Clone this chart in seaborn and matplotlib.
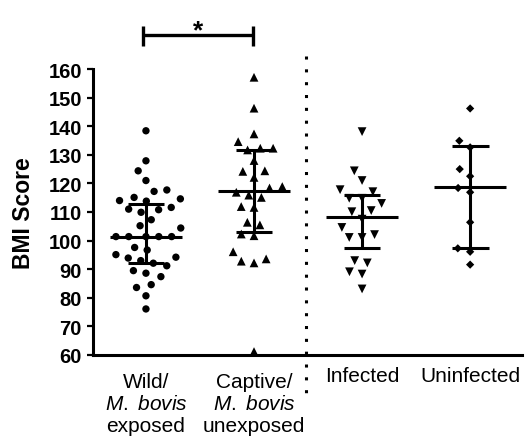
import numpy as np
import pandas as pd
import matplotlib
matplotlib.use("Agg")
import matplotlib.pyplot as plt
import matplotlib.transforms as mtransforms
import seaborn as sns

# ---------------- data ----------------
groups = ["Wild", "Captive", "Infected", "Uninfected"]
tick_labels = ["Wild/\n$\\mathit{M.\\ bovis}$\nexposed",
               "Captive/\n$\\mathit{M.\\ bovis}$\nunexposed",
               "Infected", "Uninfected"]

wild = [138.4, 127.9, 124.4, 121.0, 117.7, 117.2, 115.1, 114.6, 114.0, 113.8,
        111.6, 111.0, 110.8, 109.9, 107.3, 105.2, 104.4, 101.4, 101.4, 101.4,
        101.4, 101.4, 97.6, 96.7, 95.1, 94.2, 93.9, 93.0, 92.1, 91.2, 89.5,
        88.6, 87.4, 84.6, 83.6, 80.7, 76.1]
captive = [157.1, 146.3, 137.3, 134.6, 132.3, 132.3, 131.7, 128.0, 124.4, 124.2,
           122.1, 118.9, 118.4, 116.9, 115.9, 115.1, 111.9, 111.6, 106.4, 105.5,
           102.3, 101.7, 96.1, 93.6, 92.8, 92.2, 61.2]
infected = [138.1, 124.4, 121.0, 117.8, 117.1, 114.8, 114.8, 113.0, 110.5, 110.1,
            107.5, 104.6, 102.1, 101.1, 101.1, 93.0, 92.2, 89.1, 88.3, 83.1]
uninfected = [146.2, 134.9, 132.6, 125.0, 122.5, 118.4, 116.9, 106.4, 97.3,
              96.1, 91.6]

medians = [101.4, 117.5, 108.1, 118.8]
q1 = [92.2, 102.9, 97.3, 97.4]
q3 = [112.8, 131.7, 115.9, 133.0]

yticks = [60, 70, 80, 90, 100, 110, 120, 130, 140, 150, 160]

# ---------------- styling ----------------
sns.set_style("ticks")
plt.rcParams["font.family"] = ["Liberation Sans", "DejaVu Sans"]
plt.rcParams["mathtext.fontset"] = "custom"
plt.rcParams["mathtext.rm"] = "Liberation Sans"
plt.rcParams["mathtext.it"] = "Liberation Sans:italic"
for key in ["text.color", "axes.labelcolor", "xtick.color", "ytick.color",
            "axes.edgecolor"]:
    plt.rcParams[key] = "black"

df = pd.DataFrame({
    "group": (["Wild"] * len(wild) + ["Captive"] * len(captive)
              + ["Infected"] * len(infected) + ["Uninfected"] * len(uninfected)),
    "score": wild + captive + infected + uninfected,
})

markers = ["o", "^", "v", "D"]
msizes = [5.3, 6.3, 6.3, 4.2]
spacing = 8.8  # swarm center-to-center spacing in points

fig = plt.figure(figsize=(5.25, 4.39), dpi=100)
ax = fig.add_axes([93 / 525, 83 / 439, (522 - 93) / 525, 286 / 439])

for g, m, s in zip(groups, markers, msizes):
    sub = df[df["group"] == g]
    sns.swarmplot(data=sub, x="group", y="score", order=groups, marker=m,
                  size=s, color="black", edgecolor="none",
                  linewidth=spacing - s, ax=ax, zorder=2)

pos = np.arange(len(groups))
lw = 2.2
ax.hlines(medians, pos - 0.33, pos + 0.33, color="black", lw=lw, zorder=4)
ax.hlines(q1, pos - 0.17, pos + 0.17, color="black", lw=lw, zorder=4)
ax.hlines(q3, pos - 0.17, pos + 0.17, color="black", lw=lw, zorder=4)
ax.vlines(pos, q1, q3, color="black", lw=lw, zorder=4)

ax.set_xlim(-0.49, 3.48)
ax.set_ylim(60, 160)
ax.set_yticks(yticks)
ax.set_yticklabels([str(t) for t in yticks], fontsize=14.5, fontweight="bold")
ax.set_xticks(pos)
ax.set_xticklabels(tick_labels, fontsize=15, linespacing=1.2)
ax.tick_params(axis="x", length=0, pad=8)
ax.tick_params(axis="y", length=4.5, width=1.6, pad=3.5)
ax.set_xlabel("")
ax.set_ylabel("BMI Score", fontsize=16.5, fontweight="bold")
ax.yaxis.set_label_coords(-0.135, 0.5)

# the two-part labels sit a little lower than the single-line ones
shift = mtransforms.ScaledTranslation(0, -4.5 / 72, fig.dpi_scale_trans)
for lab in ax.get_xticklabels()[:2]:
    lab.set_transform(lab.get_transform() + shift)

for side in ["top", "right"]:
    ax.spines[side].set_visible(False)
for side in ["left", "bottom"]:
    ax.spines[side].set_linewidth(2.2)

# dotted divider between the two comparisons
ax.plot([1.48, 1.48], [164.5, 46.4], color="black", lw=2.2,
        linestyle=(0, (1, 3.2)), dash_capstyle="butt", clip_on=False, zorder=5)

# significance bracket
bx0, bx1, by = -0.03, 0.99, 171.9
ax.plot([bx0, bx1], [by, by], color="black", lw=2.4, clip_on=False,
        solid_capstyle="butt")
ax.plot([bx0, bx0], [168.1, 175.1], color="black", lw=2.4, clip_on=False,
        solid_capstyle="butt")
ax.plot([bx1, bx1], [168.1, 175.1], color="black", lw=2.4, clip_on=False,
        solid_capstyle="butt")
ax.text((bx0 + bx1) / 2, 171.0, "*", ha="center", va="baseline",
        fontsize=19, fontweight="bold", clip_on=False)

fig.savefig("out.png", dpi=100)
